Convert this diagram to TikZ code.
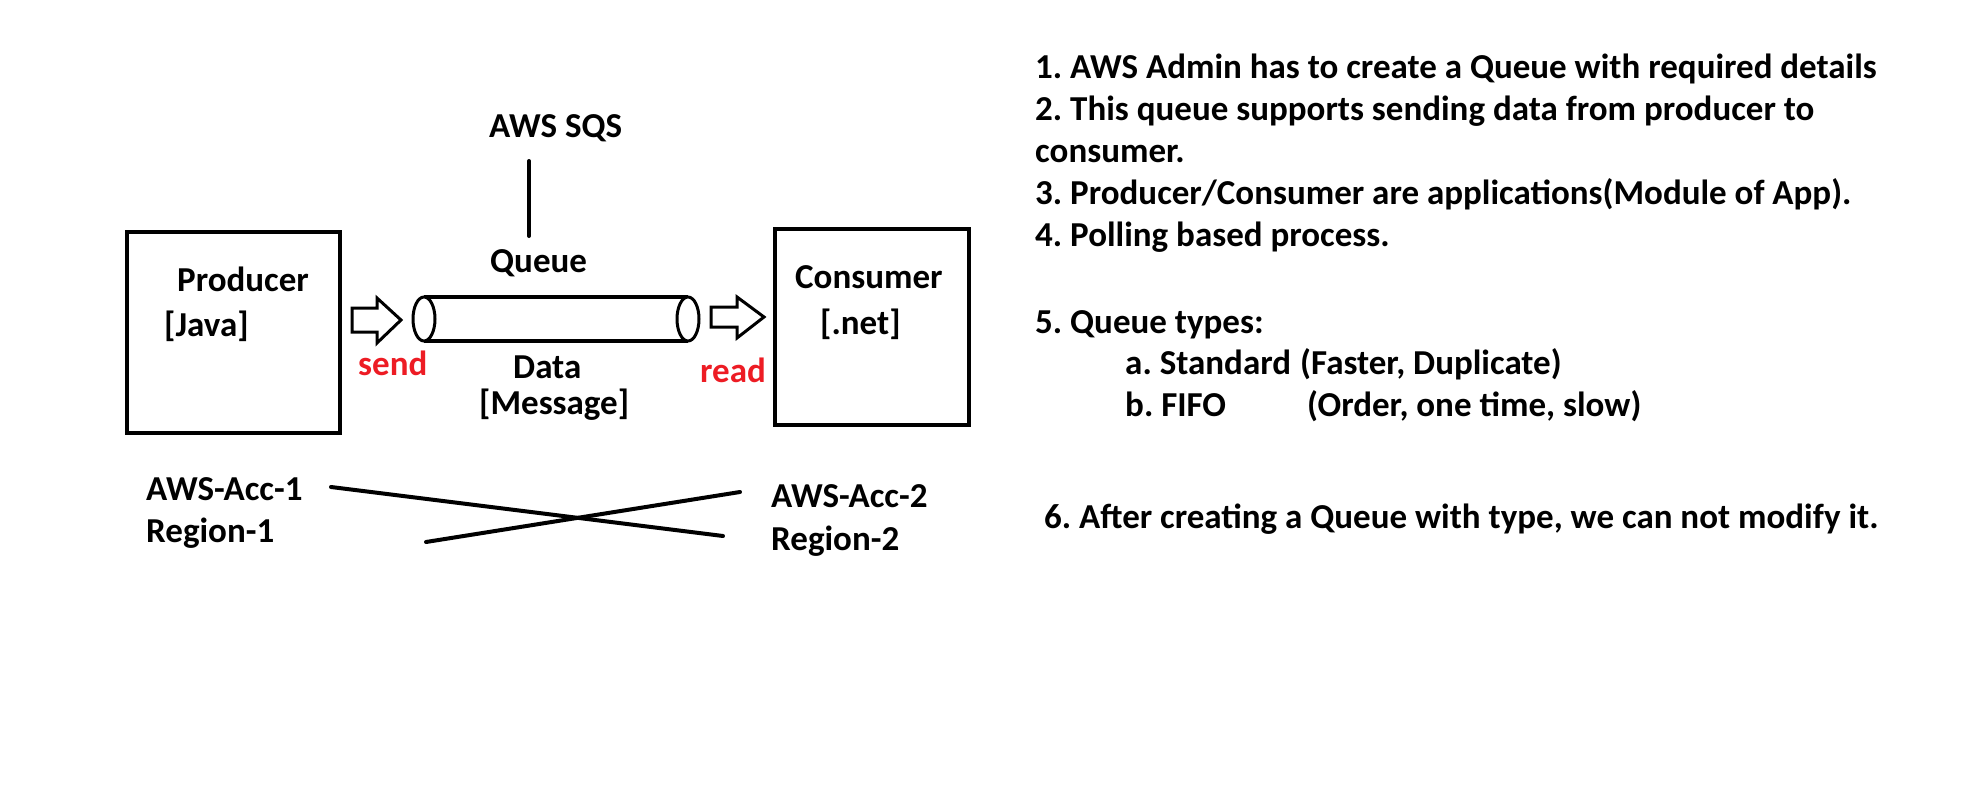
\documentclass[tikz,border=0pt]{standalone}
\usepackage{fontspec}
\setmainfont{Carlito}
\frenchspacing
\definecolor{pred}{RGB}{237,28,36}
\begin{document}
\begin{tikzpicture}[x=1pt,y=-1pt,
  txt/.style={font=\frenchspacing\bfseries\fontsize{35}{42}\selectfont, inner sep=0pt, anchor=base west},
  redtxt/.style={txt, text=pred},
  boxl/.style={draw=black, line width=4.5pt},
  thick line/.style={draw=black, line width=4pt},
  blockarrow/.style={draw=black, line width=3pt, fill=white, line join=miter}]
\useasboundingbox (0,0) rectangle (1972,784);
% boxes
\draw[boxl] (127,232) rectangle (340,433);
\draw[boxl] (775,229) rectangle (969,425);
% texts in boxes
\node[txt] (prod) at (177,291) {Producer};
\node[txt] (java) at (164,336) {[Java]};
\node[txt] (cons) at (795,288) {Consumer};
\node[txt] (net) at (820,334) {[.net]};
% AWS SQS + line
\node[txt] (sqs) at (489,137) {AWS SQS};
\coordinate (lt) at (529,161);
\coordinate (lb) at (529,236);
\draw[thick line, line cap=round] (lt) -- (lb);
\node[txt] (queue) at (490,272) {Queue};
% cylinder
\draw[line width=4pt] (424,297) -- (688,297);
\draw[line width=4pt] (424,341) -- (688,341);
\draw[line width=3pt, fill=white] (424,319) ellipse [x radius=11, y radius=22];
\draw[line width=3pt, fill=white] (688,319) ellipse [x radius=11, y radius=22];
% block arrows
\draw[blockarrow] (352,308) -- (377,308) -- (377,298) -- (401,320) -- (377,343) -- (377,332) -- (352,332) -- cycle;
\draw[blockarrow] (711,307) -- (737,307) -- (737,297) -- (764,317) -- (737,338) -- (737,327) -- (711,327) -- cycle;
\node[redtxt] (send) at (358,375) {send};
\node[redtxt] (read) at (700,382) {read};
\node[txt] (data) at (513,378) {Data};
\node[txt] (msg) at (479,414) {[Message]};
% accounts
\node[txt] (acc1) at (146,500) {AWS-Acc-1};
\node[txt] (reg1) at (146,542) {Region-1};
\node[txt] (acc2) at (771,507) {AWS-Acc-2};
\node[txt] (reg2) at (771,550) {Region-2};
\coordinate (c1a) at (331,487);
\coordinate (c1b) at (723,536);
\coordinate (c2a) at (426,542);
\coordinate (c2b) at (740,492);
\draw[thick line, line cap=round] (c1a) -- (c1b);
\draw[thick line, line cap=round] (c2a) -- (c2b);
% notes
\node[txt] (n1) at (1035,78) {1. AWS Admin has to create a Queue with required details};
\node[txt] (n2) at (1035,120) {2. This queue supports sending data from producer to};
\node[txt] (n2b) at (1035,162) {consumer.};
\node[txt] (n3) at (1035,204) {3. Producer/Consumer are applications(Module of App).};
\node[txt] (n4) at (1035,246) {4. Polling based process.};
\node[txt] (n5) at (1035,333) {5. Queue types:};
\node[txt] (n5a) at (1125,374) {a. Standard};
\node[txt] (n5a2) at (1300,374) {(Faster, Duplicate)};
\node[txt] (n5b) at (1125,416) {b. FIFO};
\node[txt] (n5b2) at (1307,416) {(Order, one time, slow)};
\node[txt] (n6) at (1044,528) {6. After creating a Queue with type, we can not modify it.};
\end{tikzpicture}
\end{document}
